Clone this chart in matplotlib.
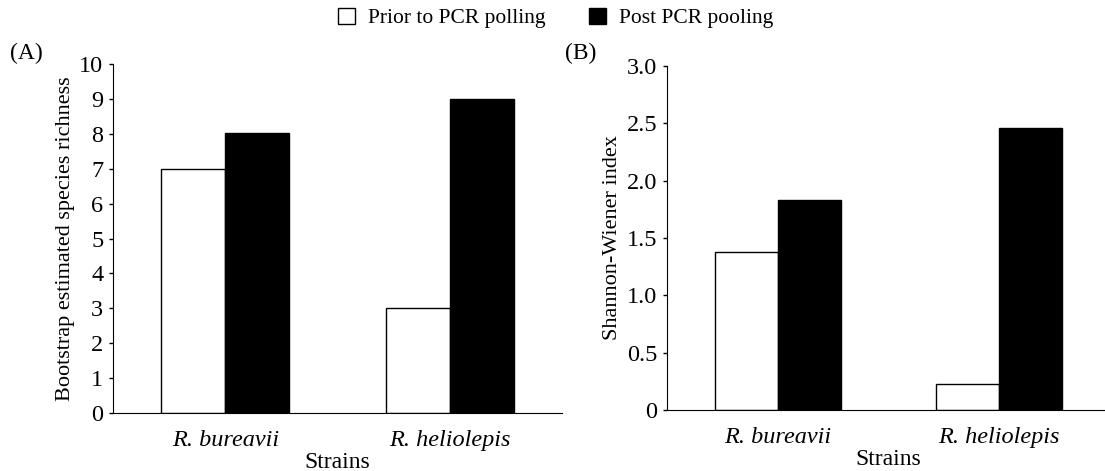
import numpy as np
import matplotlib.pyplot as plt
from matplotlib.patches import Patch

plt.rcParams["font.family"] = ["Liberation Serif", "DejaVu Serif"]

strains = ["R. bureavii", "R. heliolepis"]
series = ["Prior to PCR polling", "Post PCR pooling"]
richness_prior = [7.0, 3.0]
richness_post = [8.03, 9.0]
shannon_prior = [1.38, 0.23]
shannon_post = [1.83, 2.46]

x = np.arange(len(strains))
w = 0.285

fig = plt.figure(figsize=(11.05, 4.71), dpi=100)
axA = fig.add_axes([0.1023, 0.1231, 0.4063, 0.741])
axB = fig.add_axes([0.6036, 0.1295, 0.4004, 0.7304])


def draw(ax, prior, post, ylim, yticks, yticklabels, ylabel):
    ax.bar(x - w / 2, prior, w, color="white", edgecolor="black", linewidth=1.0)
    ax.bar(x + w / 2, post, w, color="black", edgecolor="black", linewidth=1.0)
    ax.set_xlim(-0.5, 1.5)
    ax.set_ylim(*ylim)
    ax.set_yticks(yticks)
    ax.set_yticklabels(yticklabels, fontsize=17.5)
    ax.set_xticks(x)
    ax.set_xticklabels(strains, fontsize=17.5, style="italic")
    ax.tick_params(axis="x", length=0, pad=12)
    ax.tick_params(axis="y", length=3, width=1, direction="out", pad=4)
    ax.spines["top"].set_visible(False)
    ax.spines["right"].set_visible(False)
    ax.set_ylabel(ylabel, fontsize=16, labelpad=3)
    ax.set_xlabel("Strains", fontsize=17, labelpad=1)


draw(axA, richness_prior, richness_post, (0, 10), range(0, 11),
     [str(v) for v in range(0, 11)], "Bootstrap estimated species richness")
draw(axB, shannon_prior, shannon_post, (0, 3.0), np.arange(0, 3.01, 0.5),
     ["0", "0.5", "1.0", "1.5", "2.0", "2.5", "3.0"], "Shannon-Wiener index")

fig.text(0.009, 0.875, "(A)", fontsize=17)
fig.text(0.511, 0.875, "(B)", fontsize=17)

handles = [Patch(facecolor="white", edgecolor="black", label=series[0]),
           Patch(facecolor="black", edgecolor="black", label=series[1])]
fig.legend(handles=handles, loc="upper center", bbox_to_anchor=(0.503, 1.025),
           ncol=2, frameon=False, fontsize=15.5, handlelength=0.8, handleheight=0.8,
           handletextpad=0.6, columnspacing=2.0)

fig.savefig("out.png", dpi=100, facecolor="white")
